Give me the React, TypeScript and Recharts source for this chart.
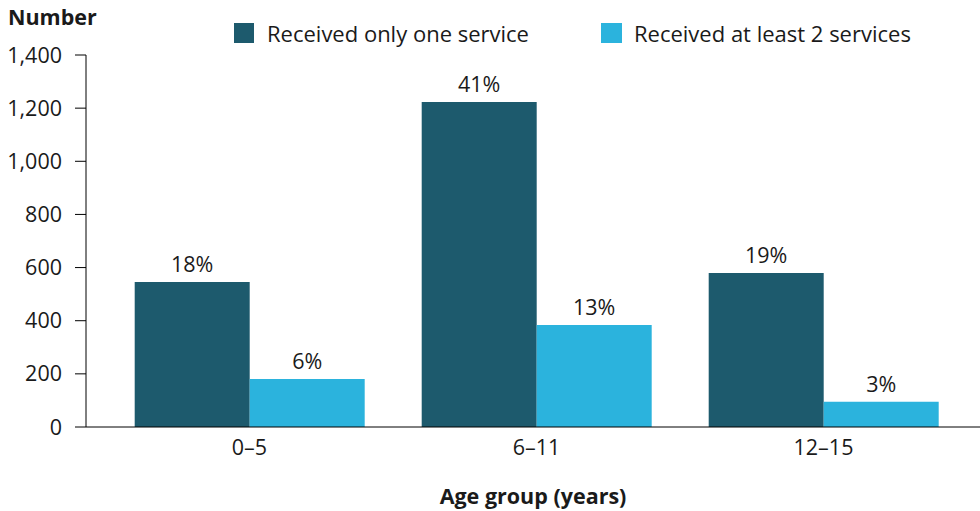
import { Bar, BarChart, LabelList, XAxis, YAxis } from "recharts";

document.body.style.margin = "0";

const ageGroups = ["0–5", "6–11", "12–15"];
const oneService = [546, 1223, 580];
const twoPlusServices = [181, 384, 95];
const oneServicePct = ["18%", "41%", "19%"];
const twoPlusPct = ["6%", "13%", "3%"];
const yTicks = [0, 200, 400, 600, 800, 1000, 1200, 1400];

const data = ageGroups.map((age, i) => ({
  age,
  one: oneService[i],
  two: twoPlusServices[i],
  onePct: oneServicePct[i],
  twoPct: twoPlusPct[i],
}));

const FONT = "'Open Sans', 'Noto Sans', sans-serif";
const DARK = "#1d5a6d";
const LIGHT = "#2bb3dd";
const TEXT = "#1a1a1a";
const FS = 21.5;

const fmt = (v: number) => v.toLocaleString("en-US");

const App = () => {
  return (
    <div style={{ position: "relative", width: 980, height: 511, fontFamily: FONT }}>
      <div style={{ position: "absolute", left: 8, top: 3, fontSize: FS, fontWeight: 700, color: TEXT, lineHeight: "28px" }}>
        Number
      </div>
      <div
        style={{
          position: "absolute",
          left: 234,
          top: 19,
          display: "flex",
          fontSize: 22,
          color: TEXT,
          lineHeight: "28px",
          whiteSpace: "nowrap",
        }}
      >
        <div style={{ display: "flex", alignItems: "center" }}>
          <span style={{ width: 20, height: 20, background: DARK, display: "inline-block", marginRight: 13 }} />
          Received only one service
        </div>
        <div style={{ display: "flex", alignItems: "center", marginLeft: 72 }}>
          <span style={{ width: 21, height: 20, background: LIGHT, display: "inline-block", marginRight: 12 }} />
          Received at least 2 services
        </div>
      </div>
      <BarChart
        width={980}
        height={511}
        data={data}
        margin={{ top: 55, right: 0, bottom: 0, left: 0 }}
        barCategoryGap="10%"
        barGap={0}
      >
        <XAxis
          dataKey="age"
          tickLine={false}
          tickMargin={7}
          height={84}
          padding={{ left: 20, right: 13 }}
          axisLine={{ stroke: "#000" }}
          tick={{ fill: TEXT, fontSize: FS, fontFamily: FONT }}
          label={{
            value: "Age group (years)",
            position: "insideBottom",
            offset: 7,
            fill: TEXT,
            fontSize: FS,
            fontWeight: 700,
            fontFamily: FONT,
          }}
        />
        <YAxis
          width={86}
          domain={[0, 1400]}
          ticks={yTicks}
          tickFormatter={fmt}
          tickSize={11}
          tickMargin={13}
          axisLine={{ stroke: "#000" }}
          tickLine={{ stroke: "#000" }}
          tick={{ fill: TEXT, fontSize: FS, fontFamily: FONT }}
        />
        <Bar dataKey="one" fill={DARK} isAnimationActive={false}>
          <LabelList dataKey="onePct" position="top" offset={10} fill={TEXT} fontSize={FS} fontFamily={FONT} />
        </Bar>
        <Bar dataKey="two" fill={LIGHT} isAnimationActive={false}>
          <LabelList dataKey="twoPct" position="top" offset={10} fill={TEXT} fontSize={FS} fontFamily={FONT} />
        </Bar>
      </BarChart>
    </div>
  );
};

export default App;
